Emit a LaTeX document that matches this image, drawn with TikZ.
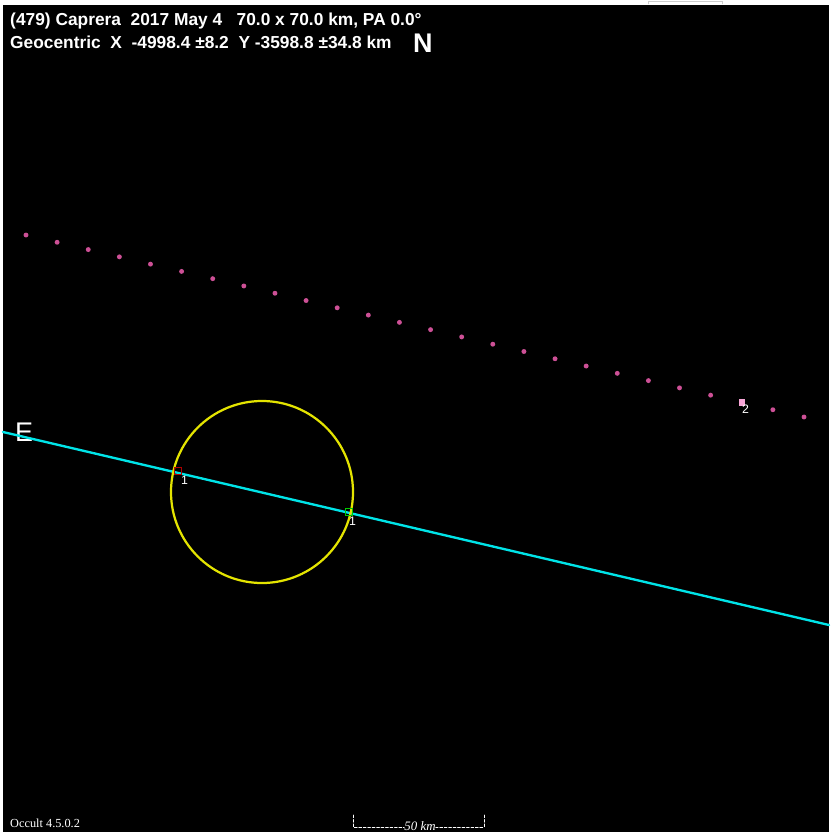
\documentclass[tikz,border=0pt]{standalone}
\usepackage{fontspec}
\setmainfont{Liberation Sans}
\newfontfamily\footfont{Liberation Serif}
\usetikzlibrary{calc}

\definecolor{chordcyan}{RGB}{0,228,232}
\definecolor{limbyellow}{RGB}{228,228,0}
\definecolor{dotpink}{RGB}{205,80,150}

\tikzset{
  chord/.style={chordcyan,line width=2pt},
  limb/.style={draw=limbyellow,line width=1.9pt,circle,inner sep=0pt},
  obsdot/.style={circle,fill=dotpink,inner sep=0pt,minimum size=4.2pt},
  tick/.style={draw,line width=.8pt,inner sep=0pt,minimum size=5.5pt},
  ticklabel/.style={text=white,font=\fontsize{10.5}{11}\selectfont,inner sep=0pt},
  header/.style={text=white,font=\bfseries\fontsize{14.8}{16}\selectfont,inner sep=0pt,anchor=base west},
  scalebar/.style={white,line width=.6pt,dash pattern=on 2.4pt off 1.4pt}
}

\begin{document}
\begin{tikzpicture}[x=0.03cm,y=-0.03cm,line cap=round]
  \fill[white] (0,0) rectangle (835,837);
  \draw[gray!40] (648,4) -- (648,1) -- (722,1) -- (722,4);
  \fill[black] (3,5) rectangle (829,832);
  \useasboundingbox (0,0) rectangle (835,837);

  % heading
  \node[header] (title) at (10,25) {(479) Caprera\ \ 2017 May 4\ \ \ 70.0 x 70.0 km, PA 0.0°};
  \node[header] (geo) at (10,48) {Geocentric\ \ X\ \ -4998.4 ±8.2\ \ Y -3598.8 ±34.8 km};
  \node[text=white,font=\bfseries\fontsize{23}{24}\selectfont,inner sep=0pt,anchor=base west] (north) at (413,52) {N};
  \node[text=white,font=\fontsize{23}{24}\selectfont,inner sep=0pt,anchor=base west] (east) at (15,441) {E};

  % chord and limb
  \coordinate (west) at (3,432);
  \coordinate (sky) at (829,625);
  \draw[chord] (west) -- (sky);
  \node[limb,minimum size=182*0.03cm] (body) at (262,492) {};

  % timings
  \node[tick,draw=red!70!black] (dis) at (178,471) {};
  \node[ticklabel,anchor=north west] (dislab) at (181,476) {1};
  \node[tick,draw=green!80!black] (rea) at (349,512) {};
  \node[ticklabel,anchor=north west] (realab) at (349,517) {1};

  % miss path
  \foreach \i in {0,...,25} {
    \ifnum\i=23
      \node[fill=magenta!35!white,inner sep=0pt,minimum size=5.5pt] (miss\i) at ({26+31.12*\i},{235+7.28*\i}) {};
    \else
      \node[obsdot] (miss\i) at ({26+31.12*\i},{235+7.28*\i}) {};
    \fi
  }
  \node[ticklabel,anchor=north west] (misslab) at (742,405) {2};

  % footer
  \node[text=white,font=\footfont\fontsize{10.5}{11}\selectfont,inner sep=0pt,anchor=base west] (ver) at (10,827) {Occult 4.5.0.2};
  \node[text=white,font=\footfont\itshape\fontsize{11}{12}\selectfont,inner sep=0pt,anchor=base] (scale) at (420,830) {50 km};
  \coordinate (sl) at (353,815);
  \coordinate (slb) at (353,827);
  \coordinate (sr) at (484,815);
  \coordinate (srb) at (484,827);
  \draw[scalebar] (sl) -- (slb) -- (slb -| scale.west);
  \draw[scalebar] (sr) -- (srb) -- (srb -| scale.east);
\end{tikzpicture}
\end{document}
